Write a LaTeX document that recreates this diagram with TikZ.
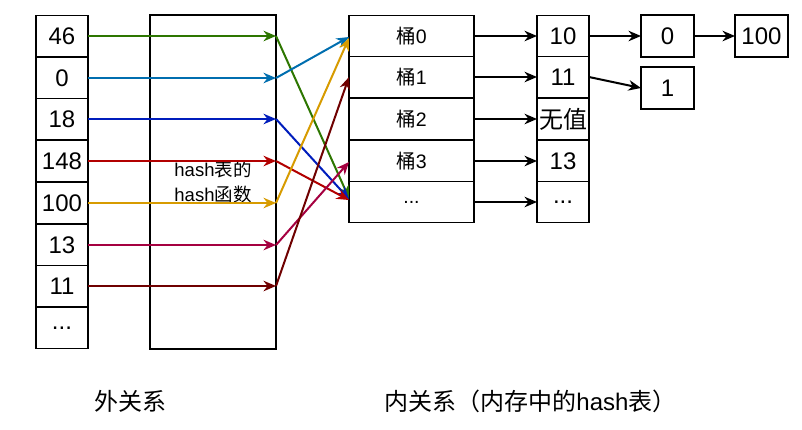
\documentclass[tikz,border=0pt]{standalone}
\usepackage{fontspec}
\setmainfont{Liberation Sans}
\newfontfamily\cjk{Noto Sans CJK SC}
\usetikzlibrary{arrows.meta}
\definecolor{cgreen}{HTML}{2D7600}
\definecolor{cblue}{HTML}{006EAF}
\definecolor{cdblue}{HTML}{001DBC}
\definecolor{cred}{HTML}{B20000}
\definecolor{corange}{HTML}{D79B00}
\definecolor{ccrimson}{HTML}{A50040}
\definecolor{cdred}{HTML}{6F0000}
\begin{document}
\begin{tikzpicture}[x=1pt,y=-1pt,
  cell/.style={draw=black, line width=1.1pt, rectangle, inner sep=0pt, outer sep=0pt,
    minimum width=52pt, minimum height=41.75pt, font=\fontsize{24}{28}\selectfont},
  bcell/.style={cell, minimum width=125pt, minimum height=41.6pt, font=\fontsize{19.5}{23}\selectfont},
  rcell/.style={cell, minimum height=41.6pt},
  xbox/.style={cell, minimum width=53pt, minimum height=42pt},
  hbox/.style={draw=black, line width=1.1pt, rectangle, inner sep=0pt, outer sep=0pt,
    minimum width=126pt, minimum height=334pt, align=center, font=\fontsize{18.5}{25}\selectfont},
  lbl/.style={inner sep=0pt, font=\fontsize{24}{28}\selectfont},
  arr/.style={line width=2pt, -{Stealth[length=12.5pt,width=10.5pt,inset=4pt]}}]
\useasboundingbox (0,0) rectangle (802,429);
% left column
\node[cell] (L1) at (62,36) {46};
\node[cell] (L2) at (62,78) {0};
\node[cell] (L3) at (62,119) {18};
\node[cell] (L4) at (62,161) {148};
\node[cell] (L5) at (62,203) {100};
\node[cell] (L6) at (62,245) {13};
\node[cell] (L7) at (62,286) {11};
\node[cell] (L8) at (62,328) {...};
% hash box
\node[hbox] (H) at (213,182) {hash{\cjk 表的}\\hash{\cjk 函数}};
% bucket table
\node[bcell] (B0) at (411.5,36) {{\cjk 桶}0};
\node[bcell] (B1) at (411.5,77) {{\cjk 桶}1};
\node[bcell] (B2) at (411.5,119) {{\cjk 桶}2};
\node[bcell] (B3) at (411.5,161) {{\cjk 桶}3};
\node[bcell] (B4) at (411.5,202) {...};
% value table
\node[rcell] (R0) at (563,36) {10};
\node[rcell] (R1) at (563,77) {11};
\node[rcell] (R2) at (563,119) {\cjk 无值};
\node[rcell] (R3) at (563,161) {13};
\node[rcell] (R4) at (563,202) {...};
% chains
\node[xbox] (N0) at (667.5,36) {0};
\node[xbox] (N100) at (761.5,36) {100};
\node[xbox] (N1) at (667.5,88) {1};
% left to hash
\draw[arr,cgreen] (L1.east) -- (H.east |- L1);
\draw[arr,cblue] (L2.east) -- (H.east |- L2);
\draw[arr,cdblue] (L3.east) -- (H.east |- L3);
\draw[arr,cred] (L4.east) -- (H.east |- L4);
\draw[arr,corange] (L5.east) -- (H.east |- L5);
\draw[arr,ccrimson] (L6.east) -- (H.east |- L6);
\draw[arr,cdred] (L7.east) -- (H.east |- L7);
% hash to buckets
\draw[arr,cgreen] (H.east |- L1) -- ([yshift=4pt]B4.west);
\draw[arr,cblue] (H.east |- L2) -- ([yshift=-1pt]B0.west);
\draw[arr,cdblue] (H.east |- L3) -- ([yshift=3pt]B4.west);
\draw[arr,cred] (H.east |- L4) -- ([yshift=2pt]B4.west);
\draw[arr,corange] (H.east |- L5) -- ([yshift=-2pt]B0.west);
\draw[arr,ccrimson] (H.east |- L6) -- ([yshift=-1pt]B3.west);
\draw[arr,cdred] (H.east |- L7) -- (B1.west);
% buckets to values
\draw[arr,black] (B0.east) -- (R0.west);
\draw[arr,black] (B1.east) -- (R1.west);
\draw[arr,black] (B2.east) -- (R2.west);
\draw[arr,black] (B3.east) -- (R3.west);
\draw[arr,black] (B4.east) -- (R4.west);
\draw[arr,black] (R0.east) -- (N0.west);
\draw[arr,black] (N0.east) -- (N100.west);
\draw[arr,black] (R1.east) -- (N1.west);
% labels
\node[lbl] (la) at (130,401) {\cjk 外关系};
\node[lbl] (lb) at (530.5,401) {{\cjk 内关系（内存中的}hash{\cjk 表）}};
\end{tikzpicture}
\end{document}
